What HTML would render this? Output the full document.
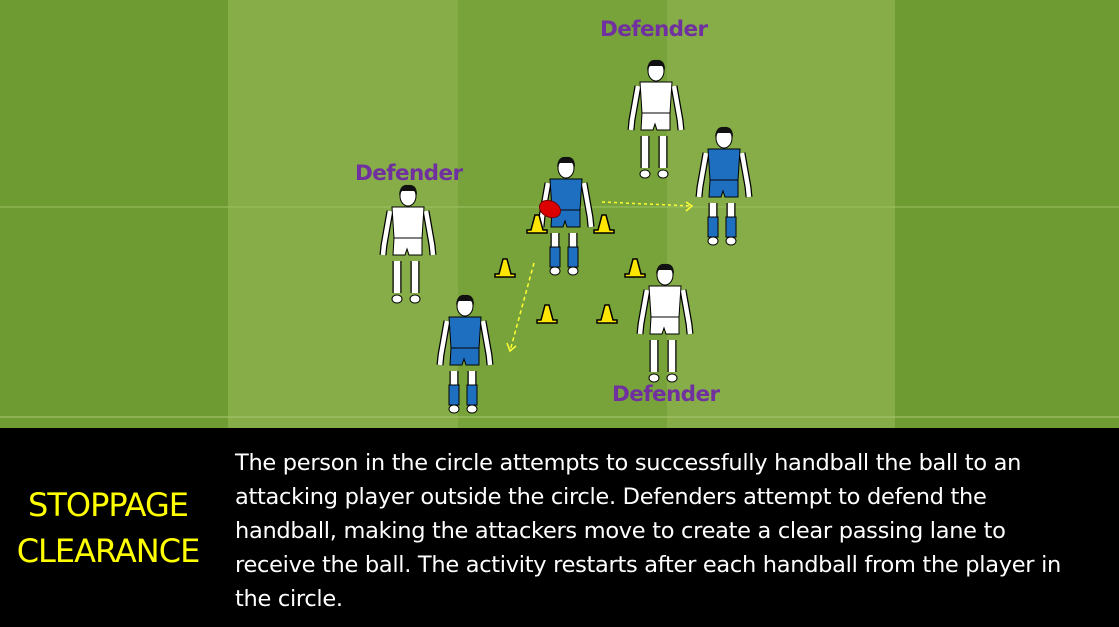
<!DOCTYPE html>
<html><head><meta charset="utf-8"><style>
body{margin:0;width:1119px;height:627px;overflow:hidden;font-family:"Liberation Sans","DejaVu Sans",sans-serif;}
.field{position:absolute;left:0;top:0;width:1119px;height:428px;background:linear-gradient(90deg,#6f9b33 0,#6f9b33 228px,#86ad48 228px,#86ad48 458px,#78a33b 458px,#78a33b 667px,#86ad48 667px,#86ad48 895px,#6f9b33 895px);}
.band{position:absolute;left:0;top:428px;width:1119px;height:199px;background:#000;}
.lbl{position:absolute;color:#7030a0;font-weight:bold;font-size:21.5px;font-family:"DejaVu Sans",sans-serif;letter-spacing:-0.6px}
.desc{position:absolute;left:235px;top:446px;white-space:nowrap;color:#fff;font-size:22.5px;line-height:34px;font-family:"DejaVu Sans",sans-serif;letter-spacing:-0.3px}
.title{position:absolute;left:0;top:482px;width:216px;text-align:center;color:#ffff00;font-size:32px;line-height:46px;font-family:"DejaVu Sans",sans-serif;letter-spacing:-1px}
</style></head><body>
<div class="field"></div>
<svg style="position:absolute;left:0;top:0" width="1119" height="428">
<defs>
<g id="p">
<path d="M12 28 L6 62 L5 72 M48 28 L54 62 L55 72" stroke="#000" stroke-width="7" fill="none"/>
<path d="M12 28 L6 62 L5 72 M48 28 L54 62 L55 72" stroke="#fff" stroke-width="4.5" fill="none"/>
<path d="M19 78 L19 110 M37 78 L37 110" stroke="#000" stroke-width="9"/>
<path d="M19 78 L19 110 M37 78 L37 110" stroke="#fff" stroke-width="6.5"/>
<ellipse cx="30" cy="13" rx="8" ry="10" fill="#fff" stroke="#000"/>
<path d="M21 12 Q22 1 30 2 Q39 1 39 12 L36 8 L24 8 Z" fill="#111"/>
<ellipse cx="19" cy="116" rx="5" ry="4" fill="#fff" stroke="#000"/>
<ellipse cx="37" cy="116" rx="5" ry="4" fill="#fff" stroke="#000"/>
</g>
<g id="a"><use href="#p"/>
<path d="M14 24 L46 24 L44 55 L16 55Z" fill="#1f6fc0" stroke="#000"/>
<path d="M16 55 L44 55 L44 72 L31 72 L29 66 L27 72 L15 72Z" fill="#1f6fc0" stroke="#000"/>
<rect x="14" y="92" width="10" height="20" fill="#1f6fc0" stroke="#000"/>
<rect x="32" y="92" width="10" height="20" fill="#1f6fc0" stroke="#000"/></g>
<g id="d"><use href="#p"/>
<path d="M14 24 L46 24 L44 55 L16 55Z" fill="#fff" stroke="#000"/>
<path d="M16 55 L44 55 L44 72 L31 72 L29 66 L27 72 L15 72Z" fill="#fff" stroke="#000"/></g>
<g id="c"><path d="M-10 9 L10 9 L10 6 L6 6 L2 -9 L-2 -9 L-6 6 L-10 6Z" fill="#ffe600" stroke="#000" stroke-width="1.5"/></g>
</defs>
<line x1="0" y1="207" x2="1119" y2="207" stroke="#9cc060" stroke-width="1"/>
<line x1="0" y1="417" x2="1119" y2="417" stroke="#a9c870" stroke-width="1"/>
<use href="#d" x="626" y="58"/>
<use href="#a" x="694" y="125"/>
<use href="#a" x="536" y="155"/>
<use href="#d" x="378" y="183"/>
<use href="#a" x="435" y="293"/>
<use href="#d" x="635" y="262"/>
<use href="#c" x="537" y="224"/><use href="#c" x="604" y="224"/>
<use href="#c" x="505" y="268"/><use href="#c" x="635" y="268"/>
<use href="#c" x="547" y="314"/><use href="#c" x="607" y="314"/>
<ellipse cx="550" cy="209" rx="11" ry="8" transform="rotate(25 550 209)" fill="#d00" stroke="#700"/>
<path d="M602 202 L692 206" stroke="#ffff33" stroke-width="1.5" stroke-dasharray="3,3" fill="none"/>
<path d="M686 202 L692 206 L686 211" stroke="#ffff33" stroke-width="1.5" fill="none"/>
<path d="M534 263 L510 351" stroke="#ffff33" stroke-width="1.5" stroke-dasharray="4,3" fill="none"/>
<path d="M507 343 L510 351 L516 346" stroke="#ffff33" stroke-width="1.5" fill="none"/>
</svg>
<div class="lbl" style="left:600px;top:17px">Defender</div>
<div class="lbl" style="left:355px;top:161px">Defender</div>
<div class="lbl" style="left:612px;top:382px">Defender</div>
<div class="band"></div>
<div class="title">STOPPAGE<br>CLEARANCE</div>
<div class="desc">The person in the circle attempts to successfully handball the ball to an<br>attacking player outside the circle. Defenders attempt to defend the<br>handball, making the attackers move to create a clear passing lane to<br>receive the ball. The activity restarts after each handball from the player in<br>the circle.</div>
</body></html>
